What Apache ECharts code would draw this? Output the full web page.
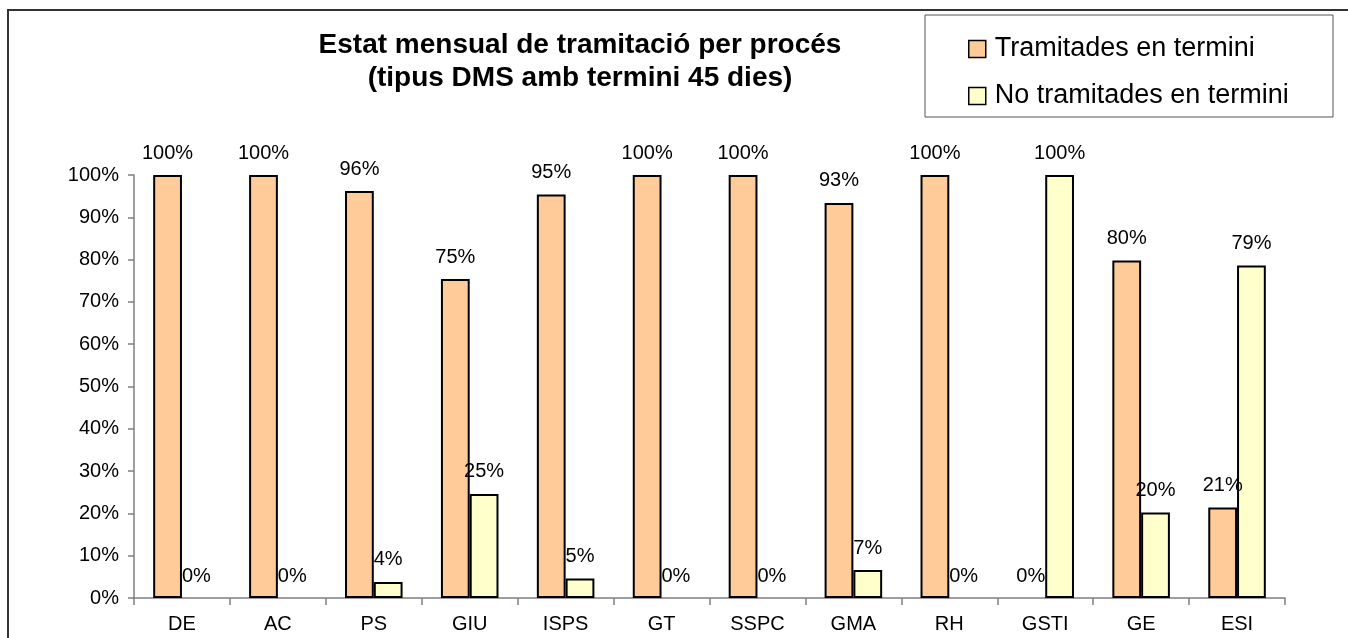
<!DOCTYPE html>
<html>
<head>
<meta charset="utf-8">
<script src="https://cdn.jsdelivr.net/npm/echarts@6/dist/echarts.min.js"></script>
<style>
  html, body { margin: 0; padding: 0; background: #fff; }
  #chart { width: 1348px; height: 638px; }
</style>
</head>
<body>
<div id="chart"></div>
<script>
var categories = ['DE', 'AC', 'PS', 'GIU', 'ISPS', 'GT', 'SSPC', 'GMA', 'RH', 'GSTI', 'GE', 'ESI'];
var enTermini = [100, 100, 96.2, 75.4, 95.4, 100, 100, 93.4, 100, 0, 79.8, 21.4];
var noEnTermini = [0, 0, 3.8, 24.6, 4.6, 0, 0, 6.6, 0, 100, 20.2, 78.6];
var yTicks = [0, 10, 20, 30, 40, 50, 60, 70, 80, 90, 100];
var seriesNames = ['Tramitades en termini', 'No tramitades en termini'];
var titleLines = ['Estat mensual de tramitació per procés', '(tipus DMS amb termini 45 dies)'];

var font = '"Liberation Sans", Arial, sans-serif';
var chart = echarts.init(document.getElementById('chart'));

function labelCfg() {
    return {
        show: true,
        position: 'top',
        distance: 12,
        color: '#000',
        fontFamily: font,
        fontSize: 20,
        formatter: function (p) { return Math.round(p.value) + '%'; }
    };
}

// las barras a cero no llevan borde
function barData(arr) {
    return arr.map(function (v) {
        return v === 0 ? { value: v, itemStyle: { borderWidth: 0 } } : v;
    });
}

var option = {
    backgroundColor: '#fff',
    animation: false,
    textStyle: { fontFamily: font },
    graphic: [
        // marco exterior
        { type: 'rect', shape: { x: 8, y: 10, width: 1500, height: 800 }, style: { fill: 'none', stroke: '#333', lineWidth: 2 }, z: 0 },
        // caja de la leyenda
        { type: 'rect', shape: { x: 925, y: 15, width: 408, height: 102 }, style: { fill: '#fff', stroke: '#555', lineWidth: 1 }, z: 1 },
        { type: 'text', x: 580, y: 45, style: { text: titleLines[0], fontFamily: font, fontSize: 28, fontWeight: 'bold', fill: '#000', align: 'center', verticalAlign: 'middle' }, z: 5 },
        { type: 'text', x: 580, y: 78, style: { text: titleLines[1], fontFamily: font, fontSize: 28, fontWeight: 'bold', fill: '#000', align: 'center', verticalAlign: 'middle' }, z: 5 }
    ],
    legend: {
        data: seriesNames,
        orient: 'vertical',
        left: 963,
        top: 29,
        itemWidth: 17,
        itemHeight: 17,
        itemGap: 17,
        icon: 'rect',
        z: 10,
        textStyle: { fontFamily: font, fontSize: 27, color: '#000', lineHeight: 30, padding: [0, 0, 0, 4] },
        itemStyle: { borderColor: '#000', borderWidth: 1.5 }
    },
    grid: { left: 134, right: 63, top: 175, bottom: 40, containLabel: false },
    xAxis: {
        type: 'category',
        data: categories,
        boundaryGap: true,
        axisLine: { lineStyle: { color: '#7f7f7f', width: 1.5 } },
        axisTick: { show: true, length: 7, lineStyle: { color: '#7f7f7f', width: 1.5 } },
        axisLabel: { color: '#000', fontFamily: font, fontSize: 20, margin: 16 }
    },
    yAxis: {
        type: 'value',
        min: yTicks[0],
        max: yTicks[yTicks.length - 1],
        interval: 10,
        splitLine: { show: false },
        axisLine: { show: true, lineStyle: { color: '#7f7f7f', width: 1.5 } },
        axisTick: { show: true, length: 6, lineStyle: { color: '#7f7f7f', width: 1.5 } },
        axisLabel: { color: '#000', fontFamily: font, fontSize: 20, margin: 15, formatter: '{value}%' }
    },
    series: [
        {
            name: seriesNames[0],
            type: 'bar',
            data: barData(enTermini),
            barGap: '0%',
            barCategoryGap: '40%',
            itemStyle: { color: '#FFCC99', borderColor: '#000', borderWidth: 2 },
            label: labelCfg()
        },
        {
            name: seriesNames[1],
            type: 'bar',
            data: barData(noEnTermini),
            barGap: '0%',
            barCategoryGap: '40%',
            itemStyle: { color: '#FFFFCC', borderColor: '#000', borderWidth: 2 },
            label: labelCfg()
        }
    ]
};
chart.setOption(option);
</script>
</body>
</html>
